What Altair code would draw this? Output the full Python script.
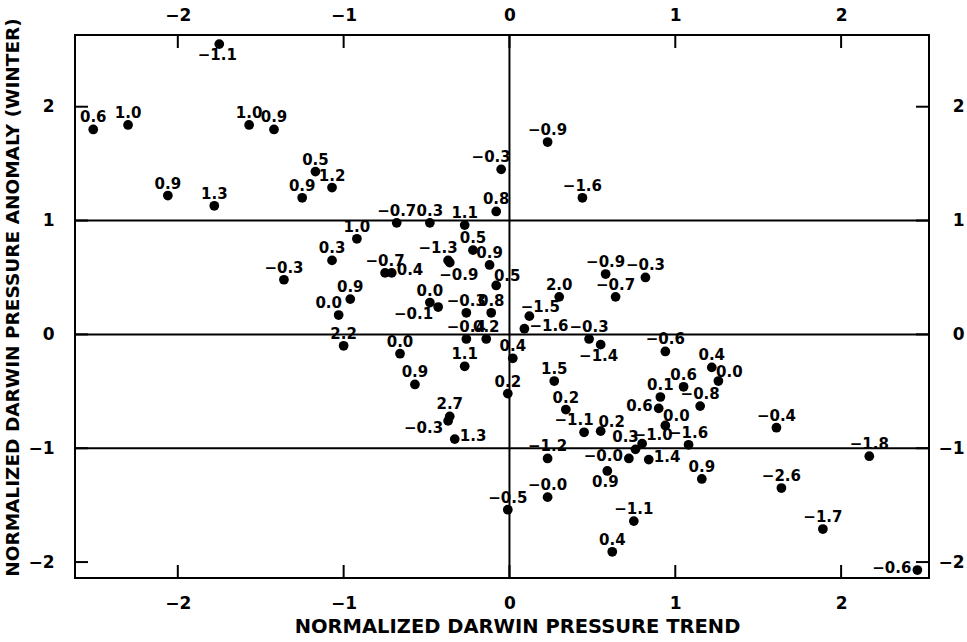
import altair as alt
import pandas as pd

# ---- data ----
x_trend = [-1.75, -2.51, -2.30, -1.57, -1.42, -1.17, -1.07, -1.25, -2.06, -1.78,
           0.23, -0.05, 0.44, -0.08, -0.68, -0.48, -0.27, -0.92, -1.07, -1.36,
           -0.96, -1.03, -1.00, -0.75, -0.71, -0.37, -0.36, -0.22, -0.12, -0.08,
           -0.48, -0.43, -0.26, -0.11, -0.26, -0.14, 0.12, 0.09, 0.30, 0.48,
           0.55, 0.58, 0.64, 0.82, -0.66, -0.57, -0.27, 0.02, -0.01, 0.27,
           0.34, -0.36, -0.37, -0.33, 0.45, 0.55, 0.94, 1.22, 1.26, 1.05,
           0.91, 0.90, 1.15, 0.94, 1.08, 0.80, 0.76, 0.72, 0.84, 1.16,
           0.59, 0.23, 0.23, -0.01, 0.75, 0.62, 1.61, 2.17, 1.64, 1.89,
           2.46]
y_anom = [2.55, 1.80, 1.84, 1.84, 1.80, 1.43, 1.29, 1.20, 1.22, 1.13,
          1.69, 1.45, 1.20, 1.08, 0.98, 0.98, 0.96, 0.84, 0.65, 0.48,
          0.31, 0.17, -0.10, 0.54, 0.54, 0.65, 0.63, 0.74, 0.61, 0.43,
          0.28, 0.24, 0.19, 0.19, -0.04, -0.04, 0.16, 0.05, 0.33, -0.04,
          -0.09, 0.53, 0.33, 0.50, -0.17, -0.44, -0.28, -0.21, -0.52, -0.41,
          -0.66, -0.72, -0.76, -0.92, -0.86, -0.85, -0.15, -0.29, -0.41, -0.46,
          -0.55, -0.65, -0.63, -0.80, -0.97, -0.96, -1.01, -1.09, -1.10, -1.27,
          -1.20, -1.09, -1.43, -1.54, -1.64, -1.91, -0.82, -1.07, -1.35, -1.71,
          -2.07]
M = "\u2212"
labels = ["-1.1", "0.6", "1.0", "1.0", "0.9", "0.5", "1.2", "0.9", "0.9", "1.3",
          "-0.9", "-0.3", "-1.6", "0.8", "-0.7", "0.3", "1.1", "1.0", "0.3", "-0.3",
          "0.9", "0.0", "2.2", "-0.7", "0.4", "-1.3", "-0.9", "0.5", "0.9", "0.5",
          "0.0", "-0.1", "-0.3", "0.8", "-0.4", "0.2", "-1.5", "-1.6", "2.0", "-0.3",
          "-1.4", "-0.9", "-0.7", "-0.3", "0.0", "0.9", "1.1", "0.4", "0.2", "1.5",
          "0.2", "2.7", "-0.3", "1.3", "-1.1", "0.2", "-0.6", "0.4", "0.0", "0.6",
          "0.1", "0.6", "-0.8", "0.0", "-1.6", "-1.0", "0.3", "-0.0", "1.4", "0.9",
          "0.9", "-1.2", "-0.0", "-0.5", "-1.1", "0.4", "-0.4", "-1.8", "-2.6", "-1.7",
          "-0.6"]
labels = [s.replace("-", M) for s in labels]
# where each label sits relative to its dot
label_pos = ["S", "N", "N", "N", "N", "N", "N", "N", "N", "N",
             "N", "NW", "N", "N", "N", "N", "N", "N", "N", "N",
             "N", "NW", "N", "N", "E", "NW", "SE", "N", "N", "NE",
             "N", "SW", "N", "N", "N", "N", "NE", "E", "N", "N",
             "S", "N", "N", "N", "N", "N", "N", "N", "N", "N",
             "N", "N", "SW", "E", "NW", "NE", "N", "N", "NE", "N",
             "N", "W", "N", "NE", "N", "NE", "NW", "W", "E", "N",
             "S", "N", "N", "N", "N", "N", "N", "N", "N", "N",
             "W"]

tick_vals = [-2, -1, 0, 1, 2]
hline_vals = [-1, 0, 1]
vline_vals = [0]

X_TITLE = "NORMALIZED DARWIN PRESSURE TREND"
Y_TITLE = "NORMALIZED DARWIN PRESSURE ANOMALY (WINTER)"

# ---- chart ----
W, H = 854, 543
FONT = "DejaVu Sans"
xs = alt.Scale(domain=[-2.62, 2.53], nice=False, zero=False)
ys = alt.Scale(domain=[-2.14, 2.63], nice=False, zero=False)

df = pd.DataFrame({"x": x_trend, "y": y_anom, "label": labels, "pos": label_pos})
ticks_df = pd.DataFrame({"v": tick_vals})
h_df = pd.DataFrame({"v": hline_vals})
v_df = pd.DataFrame({"v": vline_vals})

ax_common = dict(values=tick_vals, domain=False, ticks=False, grid=False,
                 labelFont=FONT, labelFontWeight="bold", labelFontSize=17,
                 labelColor="black", titleFont=FONT, titleFontWeight="bold",
                 titleColor="black")

hlines = alt.Chart(h_df).mark_rule(color="black", strokeWidth=2).encode(
    y=alt.Y("v:Q", scale=ys, axis=None))
vlines = alt.Chart(v_df).mark_rule(color="black", strokeWidth=2).encode(
    x=alt.X("v:Q", scale=xs, axis=None))

tick_len = 13
bottom_ticks = alt.Chart(ticks_df).mark_rule(color="black", strokeWidth=2).encode(
    x=alt.X("v:Q", scale=xs, axis=None), y=alt.value(H), y2=alt.value(H - tick_len))
top_ticks = alt.Chart(ticks_df).mark_rule(color="black", strokeWidth=2).encode(
    x=alt.X("v:Q", scale=xs,
            axis=alt.Axis(orient="top", title=None, labelPadding=11, **ax_common)),
    y=alt.value(0), y2=alt.value(tick_len))
left_ticks = alt.Chart(ticks_df).mark_rule(color="black", strokeWidth=2).encode(
    y=alt.Y("v:Q", scale=ys, axis=None), x=alt.value(0), x2=alt.value(tick_len))
right_ticks = alt.Chart(ticks_df).mark_rule(color="black", strokeWidth=2).encode(
    y=alt.Y("v:Q", scale=ys,
            axis=alt.Axis(orient="right", title=None, labelAlign="right",
                          labelPadding=35, **ax_common)),
    x=alt.value(W), x2=alt.value(W - tick_len))

points = alt.Chart(df).mark_circle(size=95, color="black", opacity=1).encode(
    x=alt.X("x:Q", scale=xs,
            axis=alt.Axis(orient="bottom", title=X_TITLE, labelPadding=17,
                          titlePadding=6, titleFontSize=19.5, titleX=442,
                          **ax_common)),
    y=alt.Y("y:Q", scale=ys,
            axis=alt.Axis(orient="left", title=Y_TITLE, labelPadding=21,
                          titlePadding=5, titleFontSize=18.5, titleY=262,
                          **ax_common)),
)

placements = {
    "N": dict(align="center", dx=0, dy=-12),
    "NE": dict(align="center", dx=11, dy=-9),
    "NW": dict(align="center", dx=-10, dy=-12),
    "E": dict(align="left", dx=5, dy=-3),
    "W": dict(align="right", dx=-6, dy=-2),
    "S": dict(align="center", dx=-2, dy=11),
    "SE": dict(align="center", dx=9, dy=12),
    "SW": dict(align="right", dx=-5, dy=7),
}
text_layers = []
for key, opt in placements.items():
    text_layers.append(
        alt.Chart(df).transform_filter(alt.datum.pos == key).mark_text(
            font=FONT, fontWeight="bold", fontSize=15, color="black",
            baseline="middle", **opt).encode(
            x=alt.X("x:Q", scale=xs, axis=None),
            y=alt.Y("y:Q", scale=ys, axis=None),
            text="label:N"))

chart = alt.layer(hlines, vlines, bottom_ticks, top_ticks, left_ticks, right_ticks,
                  points, *text_layers).resolve_axis(
    x="independent", y="independent").properties(
    width=W, height=H,
    autosize=alt.AutoSizeParams(type="none"),
    padding={"left": 75, "top": 35, "right": 38, "bottom": 64},
    background="white",
).configure_view(stroke="black", strokeWidth=2)

chart.save("out.html", embed_options={"renderer": "svg", "actions": False})
